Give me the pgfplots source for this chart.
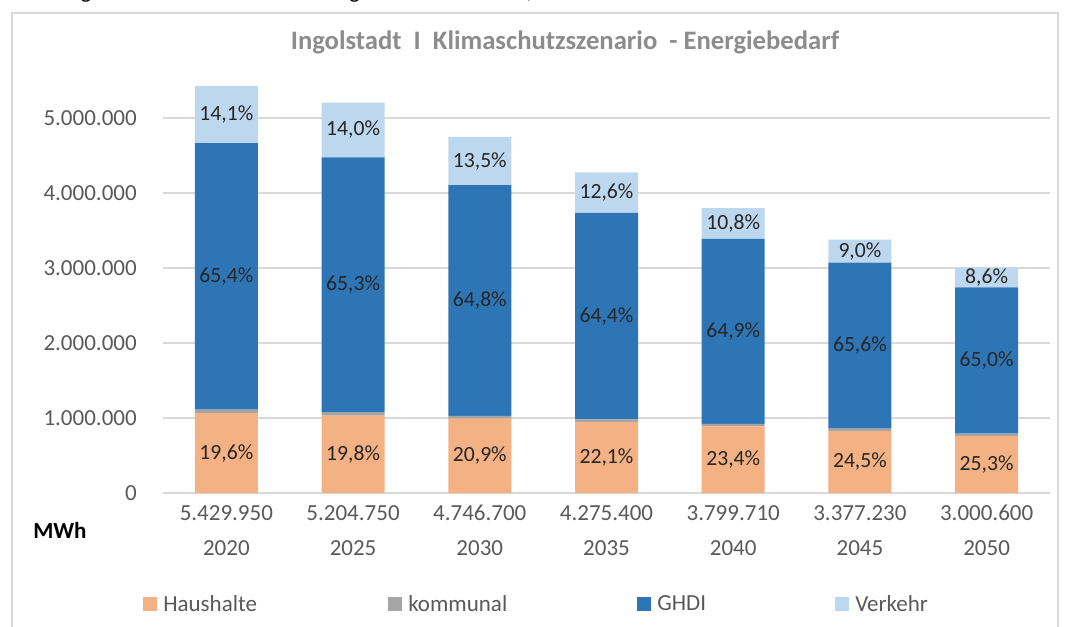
\documentclass[border=0pt]{standalone}
\usepackage{pgfplots}
\pgfplotsset{compat=1.18}
\usepackage{pgfplotstable}
\usepackage{fontspec}
\setmainfont{Carlito}
\definecolor{cHaus}{HTML}{F4B183}
\definecolor{cKomm}{HTML}{A5A5A5}
\definecolor{cGHDI}{HTML}{2E75B6}
\definecolor{cVerk}{HTML}{BDD7EE}
\definecolor{tickgray}{HTML}{595959}
\definecolor{labelgray}{HTML}{262626}
\definecolor{gridgray}{HTML}{D9D9D9}
\definecolor{titlegray}{HTML}{8C8C8C}
\definecolor{framegray}{HTML}{D9D9D9}

% values in MWh; percentage labels
\pgfplotstableread{
x H K G V Hl Gl Vl
0 1064270 48870 3551187 765623 19,6 65,4 14,1
1 1030541 46843 3398702 728664 19,8 65,3 14,0
2 992060 37974 3075862 640804 20,9 64,8 13,5
3 944863 38479 2753358 538700 22,1 64,4 12,6
4 889132 34197 2466012 410369 23,4 64,9 10,8
5 827421 30395 2215463 303951 24,5 65,6 9,0
6 759152 33007 1950390 258051 25,3 65,0 8,6
}\data

\newcommand{\fs}{\fontsize{17.25pt}{26.25pt}\selectfont}

\begin{document}
\begin{tikzpicture}
\begin{scope}[x=0.75pt,y=0.75pt]
\useasboundingbox (0,0) rectangle (1069,626);
\clip (0,0) rectangle (1069,626);
% cut caption at the top edge
\node[anchor=base west, inner sep=0pt, text=black, font=\fontsize{16.5pt}{20pt}\selectfont] at (0,627) {Abbildung 45 Klimaschutzszenario Energiebedarf: Sektoren, 2020 -- 2050};
% chart frame
\draw[framegray, line width=1.2pt] (12,613) rectangle (1058,-20);
% title
\node[font=\fontsize{20pt}{24pt}\selectfont\bfseries, text=titlegray] at (565,584) {Ingolstadt\ \ I\ \ Klimaschutzszenario\ \ - Energiebedarf};
% unit
\node[anchor=west, inner sep=0pt, font=\fs\bfseries, text=black] at (33,96) {MWh};
\end{scope}

\begin{axis}[
  at={(122.25pt,99.75pt)}, anchor=south west,
  scale only axis, width=665.25pt, height=315pt,
  ybar stacked, bar width=47.25pt,
  xmin=-0.5, xmax=6.5, ymin=0, ymax=5600000,
  xtick={0,...,6},
  xticklabels={{\strut 5.429.950\\\strut 2020},{\strut 5.204.750\\\strut 2025},{\strut 4.746.700\\\strut 2030},{\strut 4.275.400\\\strut 2035},{\strut 3.799.710\\\strut 2040},{\strut 3.377.230\\\strut 2045},{\strut 3.000.600\\\strut 2050}},
  xticklabel style={align=center, font=\fs, text=tickgray, anchor=north, inner sep=0pt, yshift=-2pt},
  ytick={0,1000000,2000000,3000000,4000000,5000000},
  yticklabel style={font=\fs, text=tickgray, anchor=east, inner sep=0pt, xshift=-19.5pt,
    /pgf/number format/.cd, fixed, precision=0, 1000 sep={.}, assume math mode=true},
  scaled y ticks=false,
  ymajorgrids, grid style={gridgray, line width=1.1pt},
  axis line style={draw=none}, major tick length=0pt,
  legend columns=4,
  legend style={at={(-0.02255,-0.2643)}, anchor=west, draw=none, fill=none,
    inner sep=0pt, column sep=0pt, font=\fs, text=tickgray,
    nodes={inner sep=0pt}},
  legend cell align=left,
  legend image code/.code={\fill[#1, draw=none] (0pt,-5.25pt) rectangle (10.5pt,5.25pt); \path (15pt,0pt);},
]
\addplot[fill=cHaus, draw=none] table[x=x, y=H] {\data};
\addlegendentry{\makebox[168.75pt][l]{Haushalte}}
\addplot[fill=cKomm, draw=none] table[x=x, y=K] {\data};
\addlegendentry{\makebox[171.75pt][l]{kommunal}}
\addplot[fill=cGHDI, draw=none] table[x=x, y=G] {\data};
\addlegendentry{\makebox[133.5pt][l]{GHDI}}
\addplot[fill=cVerk, draw=none] table[x=x, y=V] {\data};
\addlegendentry{Verkehr}
\end{axis}

\begin{axis}[
  at={(122.25pt,99.75pt)}, anchor=south west,
  scale only axis, width=665.25pt, height=315pt,
  xmin=-0.5, xmax=6.5, ymin=0, ymax=5600000,
  hide axis,
  nodes near coords={\pgfplotspointmeta\%},
  point meta=explicit symbolic,
  every node near coord/.append style={anchor=center, font=\fontsize{16.25pt}{20pt}\selectfont, text=labelgray, inner sep=0pt},
]
\addplot[draw=none, mark=none] table[x=x, y expr=\thisrow{H}/2, meta=Hl] {\data};
\addplot[draw=none, mark=none] table[x=x, y expr=\thisrow{H}+\thisrow{K}+\thisrow{G}/2, meta=Gl] {\data};
\addplot[draw=none, mark=none] table[x=x, y expr=\thisrow{H}+\thisrow{K}+\thisrow{G}+\thisrow{V}/2, meta=Vl] {\data};
\end{axis}
\end{tikzpicture}
\end{document}
